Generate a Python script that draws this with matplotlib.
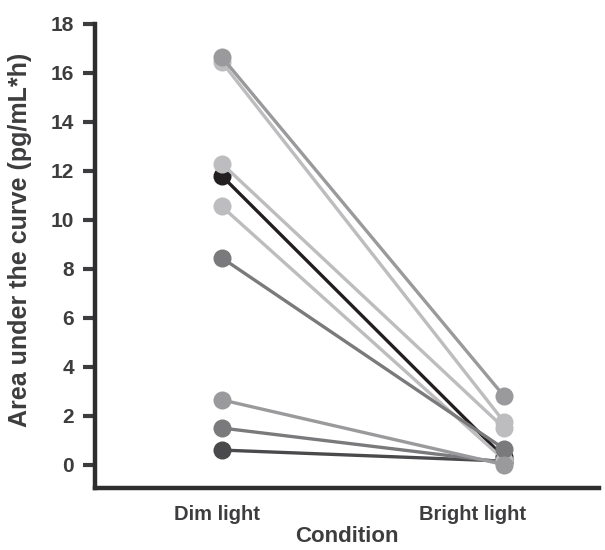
import matplotlib
matplotlib.use("Agg")
import matplotlib.pyplot as plt
from matplotlib.transforms import ScaledTranslation

conditions = ["Dim light", "Bright light"]
# one entry per subject (drawing order: first drawn at the bottom)
dim_values = [0.6, 11.8, 1.5, 10.55, 12.3, 16.45, 8.45, 16.65, 2.65]
bright_values = [0.15, 0.3, 0.1, 0.2, 1.5, 1.75, 0.65, 2.8, 0.0]
colors = ["#4a4a4c", "#231f20", "#7a7a7c", "#bdbdbf", "#bdbdbf",
          "#bdbdbf", "#7a7a7c", "#9a9a9c", "#9a9a9c"]
yticks = [0, 2, 4, 6, 8, 10, 12, 14, 16, 18]

plt.rcParams['font.family'] = ['Liberation Sans', 'DejaVu Sans']
fig = plt.figure(figsize=(6.05, 5.5), dpi=100)
ax = fig.add_axes([0.157, 0.1127, 0.833, 0.8437])

xs = [0, 1]
for d, b, c in zip(dim_values, bright_values, colors):
    ax.plot(xs, [d, b], color=c, lw=2.4, marker='o', markersize=13,
            markeredgewidth=0, solid_capstyle='butt')

ax.set_xlim(-0.449, 1.336)
ax.set_ylim(-0.95, 18)
ax.set_yticks(yticks)
ax.set_xticks(xs)
ax.set_xticklabels(conditions)

txt = "#3d3d3f"
for s in ['top', 'right']:
    ax.spines[s].set_visible(False)
for s in ['left', 'bottom']:
    ax.spines[s].set_linewidth(3.2)
    ax.spines[s].set_color("#2e2e30")
ax.spines['left'].set_bounds(-0.95, 18)
ax.tick_params(axis='y', length=9, width=3, color="#3d3d3f", labelsize=15,
               labelcolor=txt, pad=6)
ax.tick_params(axis='x', length=0, labelsize=14.5, labelcolor=txt, pad=12)
for lab in ax.get_xticklabels() + ax.get_yticklabels():
    lab.set_fontweight('bold')

# small horizontal offsets of the category labels, as in the reference
shifts = [-5 / 100, -32 / 100]
for lab, sh in zip(ax.get_xticklabels(), shifts):
    lab.set_transform(lab.get_transform() + ScaledTranslation(sh, 0, fig.dpi_scale_trans))

ax.set_xlabel("Condition", fontsize=16, fontweight='bold', color=txt, labelpad=2)
ax.set_ylabel("Area under the curve (pg/mL*h)", fontsize=18, fontweight='bold',
              color=txt)
ax.yaxis.set_label_coords(-0.124, 0.534)

fig.savefig("out.png", dpi=100)
